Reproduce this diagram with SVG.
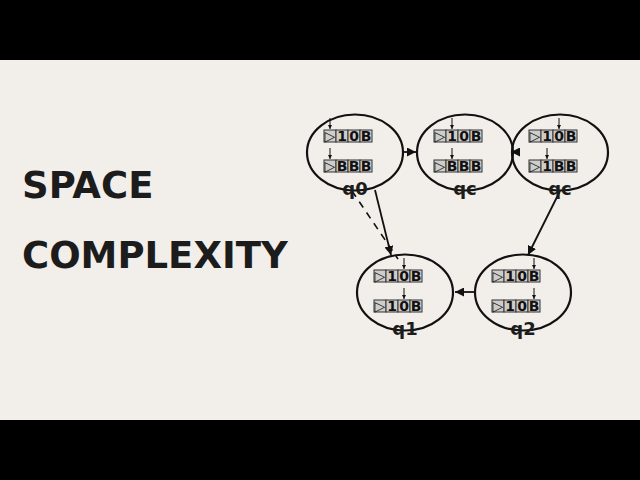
<svg xmlns="http://www.w3.org/2000/svg" width="640" height="480" viewBox="0 0 640 480">
<defs>
<style>
.bar{fill:#000}
.title{font-family:"DejaVu Sans",sans-serif;font-weight:bold;font-size:37px;fill:#1c1c1c}
.st{fill:none;stroke:#111;stroke-width:2.2}
.lbl{font-family:"DejaVu Sans",sans-serif;font-weight:bold;font-size:18px;fill:#1c1c1c;text-anchor:middle}
.cell{fill:#cfcdca;stroke:#333;stroke-width:1}
.sym{font-family:"DejaVu Sans",sans-serif;font-weight:bold;font-size:14px;fill:#111;text-anchor:middle}
.tri{font-family:"DejaVu Sans",sans-serif;font-size:14px;fill:#222;text-anchor:middle}
.head{stroke:#111;stroke-width:1;fill:none}
.edge{stroke:#111;stroke-width:1.8;fill:none}
.dash{stroke:#111;stroke-width:1.6;fill:none;stroke-dasharray:7,6}
</style>
<marker id="sa" viewBox="0 0 10 10" refX="10" refY="5" markerWidth="4" markerHeight="4" orient="auto">
<path d="M0,0 L10,5 L0,10 z" fill="#111"/>
</marker>
<marker id="ea" viewBox="0 0 10 10" refX="10" refY="5" markerWidth="5" markerHeight="5" orient="auto">
<path d="M0,0 L10,5 L0,10 z" fill="#111"/>
</marker>
<g id="cells4">
<rect class="cell" x="0" y="0" width="12" height="12"/>
<rect class="cell" x="12" y="0" width="12" height="12"/>
<rect class="cell" x="24" y="0" width="12" height="12"/>
<rect class="cell" x="36" y="0" width="12" height="12"/>
<text class="tri" x="6" y="11">▷</text>
</g>
</defs>
<rect width="640" height="480" fill="#f2efea"/>
<rect class="bar" x="0" y="0" width="640" height="60"/>
<rect class="bar" x="0" y="420" width="640" height="60"/>
<text class="title" x="22" y="198">SPACE</text>
<text class="title" x="22" y="268">COMPLEXITY</text>

<g id="connectors">
<line class="edge" x1="403" y1="152" x2="416" y2="152" marker-end="url(#ea)"/>
<line class="edge" x1="519" y1="152" x2="511" y2="152" marker-end="url(#ea)"/>
<line class="edge" x1="375" y1="190" x2="391" y2="255" marker-end="url(#ea)"/>
<line class="dash" x1="352" y1="191" x2="398" y2="259"/>
<line class="edge" x1="560" y1="191" x2="528" y2="255" marker-end="url(#ea)"/>
<line class="edge" x1="475" y1="292" x2="455" y2="292" marker-end="url(#ea)"/>
</g>

<g id="q0">
<ellipse class="st" cx="355" cy="152.5" rx="48" ry="38"/>
<line class="head" x1="330" y1="118" x2="330" y2="129" marker-end="url(#sa)"/>
<use href="#cells4" x="324" y="130"/>
<text class="sym" x="342" y="141">1</text><text class="sym" x="354" y="141">0</text><text class="sym" x="366" y="141">B</text>
<line class="head" x1="330" y1="148" x2="330" y2="159" marker-end="url(#sa)"/>
<use href="#cells4" x="324" y="160"/>
<text class="sym" x="342" y="171">B</text><text class="sym" x="354" y="171">B</text><text class="sym" x="366" y="171">B</text>
<text class="lbl" x="355" y="195">q0</text>
</g>

<g id="qc1">
<ellipse class="st" cx="465" cy="152.5" rx="48" ry="38"/>
<line class="head" x1="452" y1="118" x2="452" y2="129" marker-end="url(#sa)"/>
<use href="#cells4" x="434" y="130"/>
<text class="sym" x="452" y="141">1</text><text class="sym" x="464" y="141">0</text><text class="sym" x="476" y="141">B</text>
<line class="head" x1="452" y1="148" x2="452" y2="159" marker-end="url(#sa)"/>
<use href="#cells4" x="434" y="160"/>
<text class="sym" x="452" y="171">B</text><text class="sym" x="464" y="171">B</text><text class="sym" x="476" y="171">B</text>
<text class="lbl" x="465" y="195">qc</text>
</g>

<g id="qc2">
<ellipse class="st" cx="560" cy="152.5" rx="48" ry="38"/>
<line class="head" x1="559" y1="118" x2="559" y2="129" marker-end="url(#sa)"/>
<use href="#cells4" x="529" y="130"/>
<text class="sym" x="547" y="141">1</text><text class="sym" x="559" y="141">0</text><text class="sym" x="571" y="141">B</text>
<line class="head" x1="547" y1="148" x2="547" y2="159" marker-end="url(#sa)"/>
<use href="#cells4" x="529" y="160"/>
<text class="sym" x="547" y="171">1</text><text class="sym" x="559" y="171">B</text><text class="sym" x="571" y="171">B</text>
<text class="lbl" x="560" y="195">qc</text>
</g>

<g id="q1">
<ellipse class="st" cx="405" cy="292.5" rx="48" ry="38"/>
<line class="head" x1="404" y1="258" x2="404" y2="269" marker-end="url(#sa)"/>
<use href="#cells4" x="374" y="270"/>
<text class="sym" x="392" y="281">1</text><text class="sym" x="404" y="281">0</text><text class="sym" x="416" y="281">B</text>
<line class="head" x1="404" y1="288" x2="404" y2="299" marker-end="url(#sa)"/>
<use href="#cells4" x="374" y="300"/>
<text class="sym" x="392" y="311">1</text><text class="sym" x="404" y="311">0</text><text class="sym" x="416" y="311">B</text>
<text class="lbl" x="405" y="335">q1</text>
</g>

<g id="q2">
<ellipse class="st" cx="523" cy="292.5" rx="48" ry="38"/>
<line class="head" x1="534" y1="258" x2="534" y2="269" marker-end="url(#sa)"/>
<use href="#cells4" x="492" y="270"/>
<text class="sym" x="510" y="281">1</text><text class="sym" x="522" y="281">0</text><text class="sym" x="534" y="281">B</text>
<line class="head" x1="534" y1="288" x2="534" y2="299" marker-end="url(#sa)"/>
<use href="#cells4" x="492" y="300"/>
<text class="sym" x="510" y="311">1</text><text class="sym" x="522" y="311">0</text><text class="sym" x="534" y="311">B</text>
<text class="lbl" x="523" y="335">q2</text>
</g>
</svg>
